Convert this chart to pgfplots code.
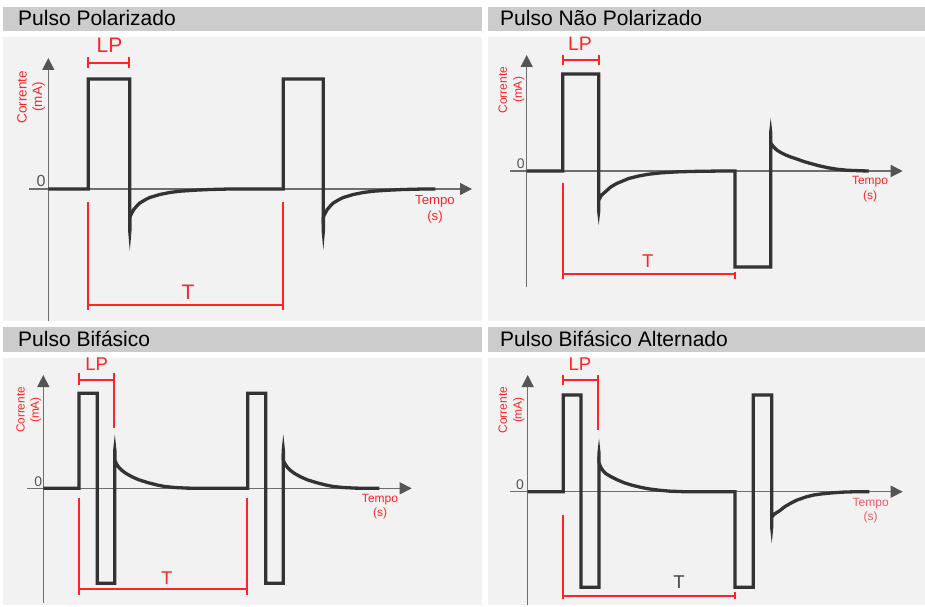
\documentclass[border=0pt]{standalone}
\usepackage{fontspec}
\setmainfont{Liberation Sans}
\usepackage{pgfplots}
\pgfplotsset{compat=1.18}
\usetikzlibrary{arrows.meta}

\definecolor{barcol}{HTML}{CCCCCC}
\definecolor{panelcol}{HTML}{F2F2F2}
\definecolor{wavecol}{HTML}{333333}
\definecolor{axcol}{HTML}{6E6E6E}
\definecolor{arrcol}{HTML}{555555}
\definecolor{redcol}{HTML}{FF2424}
\definecolor{pinkcol}{HTML}{F25A66}
\definecolor{zerocol}{HTML}{555555}
\definecolor{tcol}{HTML}{444444}

\newcommand\fs[2]{\fontsize{#1}{#2}\selectfont}

\pgfplotsset{
  panel/.style={anchor=south west, x=1pt, y=1pt, hide axis, clip=false},
}
\tikzset{
  wave/.style={draw=wavecol, line width=3.3pt, line join=miter, mark=none},
  spk/.style={fill=wavecol, draw=none, mark=none},
  ax/.style={draw=axcol, line width=1.3pt, -{Triangle[length=12pt,width=12pt,color=arrcol]}},
  br/.style={draw=redcol, line width=1.9pt},
  lbl/.style={text=redcol, align=center, inner sep=0pt},
  ttl/.style={anchor=base west, inner sep=0pt, font=\fs{21}{24}},
}

\begin{document}
\begin{tikzpicture}
% page and panels
\fill[white] (0pt,0pt) rectangle (925pt,606pt);
\fill[barcol] (3pt,575pt) rectangle (482pt,599pt);
\fill[barcol] (488pt,575pt) rectangle (925pt,599pt);
\fill[barcol] (3pt,254pt) rectangle (482pt,279pt);
\fill[barcol] (488pt,254pt) rectangle (925pt,279pt);
\fill[panelcol] (3pt,285pt) rectangle (482pt,569pt);
\fill[panelcol] (488pt,285pt) rectangle (925pt,569pt);
\fill[panelcol] (3pt,1pt) rectangle (482pt,248pt);
\fill[panelcol] (488pt,1pt) rectangle (925pt,248pt);
\node[ttl] at (18pt,580pt) {Pulso Polarizado};
\node[ttl] at (500pt,580pt) {Pulso Não Polarizado};
\node[ttl] at (18pt,259.3pt) {Pulso Bifásico};
\node[ttl] at (500pt,259.3pt) {Pulso Bifásico Alternado};

% ---------- Pulso Polarizado ----------
\begin{axis}[panel, at={(3pt,285pt)}, xmin=-45.3, xmax=433.7, ymin=-132, ymax=152]
\draw[ax] (-19.3,0) -- (423.7,0);
\draw[ax] (0,-132) -- (0,131);
\addplot[wave] coordinates {(0,0) (40,0) (40,110) (81.5,110) (81.5,-28)
  (83.5,-24) (85.5,-20.5) (88.5,-17) (91.5,-14) (96.5,-11) (101.5,-8.5)
  (111.5,-5.5) (121.5,-3.5) (131.5,-2.2) (146.5,-1.2) (161.5,-0.5) (181.5,0)
  (235,0) (235,110) (275,110) (275,-28)
  (277,-24) (279,-20.5) (282,-17) (285,-14) (290,-11) (295,-8.5)
  (305,-5.5) (315,-3.5) (325,-2.2) (340,-1.2) (355,-0.5) (375,0) (387,0)};
\addplot[spk] coordinates {(79.8,-28) (83.2,-28) (83.2,-42) (81.5,-62) (79.8,-42)};
\addplot[spk] coordinates {(273.3,-28) (276.7,-28) (276.7,-42) (275,-61) (273.3,-42)};
\draw[br] (40,125.7) -- (81,125.7);
\draw[br] (40,120.7) -- (40,132.3);
\draw[br] (81,120.7) -- (81,132.3);
\node[lbl, font=\fs{21}{24}] at (61.2,143.5) {LP};
\draw[br] (40,-13) -- (40,-121);
\draw[br] (235,-13) -- (235,-121);
\draw[br] (40,-116) -- (235,-116);
\node[lbl, font=\fs{21}{24}] at (139.7,-103.5) {T};
\node[text=zerocol, inner sep=0pt, font=\fs{16}{18}] at (-7.3,8) {0};
\node[lbl, rotate=90, font=\fs{13.5}{15.5}] at (-17.3,92) {Corrente\\(mA)};
\node[lbl, font=\fs{13.2}{16}] at (386.7,-20) {Tempo\\(s)};
\end{axis}

% ---------- Pulso Nao Polarizado ----------
\begin{axis}[panel, at={(488pt,285pt)}, xmin=-38.7, xmax=398.3, ymin=-150, ymax=134]
\draw[ax] (-16.7,0) -- (376,0);
\draw[ax] (0,-116) -- (0,116);
\addplot[wave] coordinates {(0,0) (36,0) (36,97) (72,97) (72,-29)
  (75,-24) (79,-20.5) (84,-16) (90,-12.5) (96,-10) (102,-7.5) (112,-5)
  (122,-3.2) (135,-1.8) (152,-0.8) (172,-0.3) (197,0)
  (208.3,0) (208.3,-96) (244,-96) (244,28)
  (247,24) (250,21) (254,18.5) (259,16) (264,14) (270,12) (277,9.5)
  (284,7.5) (292,5.3) (301,3.3) (310,1.8) (320,0.8) (334,0.2) (342,0)};
\addplot[spk] coordinates {(70.3,-29) (73.7,-29) (73.7,-40) (72,-54) (70.3,-40)};
\addplot[spk] coordinates {(242.3,28) (245.7,28) (245.7,38) (244,53) (242.3,38)};
\draw[br] (36,111) -- (72.3,111);
\draw[br] (36,106) -- (36,116);
\draw[br] (72.3,106) -- (72.3,116);
\node[lbl, font=\fs{19.5}{22}] at (53.3,127) {LP};
\draw[br] (36,-11.7) -- (36,-108);
\draw[br] (208.3,-101) -- (208.3,-108);
\draw[br] (36,-103.3) -- (208.3,-103.3);
\node[lbl, font=\fs{18.5}{22}] at (121,-90.5) {T};
\node[text=zerocol, inner sep=0pt, font=\fs{14}{16}] at (-6,7) {0};
\node[lbl, rotate=90, font=\fs{12}{15}] at (-15.2,81) {Corrente\\(mA)};
\node[lbl, font=\fs{12}{15}] at (343.3,-18) {Tempo\\(s)};
\end{axis}

% ---------- Pulso Bifasico ----------
\begin{axis}[panel, at={(3pt,1pt)}, xmin=-40.3, xmax=438.7, ymin=-116.7, ymax=130.3]
\draw[ax] (-16,0) -- (368.4,0);
\draw[ax] (0,-114.4) -- (0,113.3);
\addplot[wave] coordinates {(0,0) (35.7,0) (35.7,95) (54,95) (54,-95) (71.5,-95) (71.5,28)
  (73.5,24) (75.5,21) (78.5,18) (82.5,15) (88.5,11.6) (95.5,8.5) (104.5,5.7)
  (113.5,3.4) (121.5,1.8) (131.5,0.8) (143.5,0.2) (156.5,0)
  (204.4,0) (204.4,95) (222.4,95) (222.4,-95) (240,-95) (240,28)
  (242,24) (244,21) (247,18) (251,15) (257,11.6) (264,8.5) (273,5.7)
  (282,3.4) (290,1.8) (300,0.8) (312,0.2) (325,0) (336,0)};
\addplot[spk] coordinates {(69.8,28) (73.2,28) (73.2,38) (71.5,54) (69.8,38)};
\addplot[spk] coordinates {(238.3,28) (241.7,28) (241.7,38) (240,54) (238.3,38)};
\draw[br] (35.7,108.3) -- (70.7,108.3);
\draw[br] (35.7,103.3) -- (35.7,115.3);
\draw[br] (70.7,60.3) -- (70.7,115.3);
\node[lbl, font=\fs{18.5}{22}] at (53.4,124) {LP};
\draw[br] (35.7,-9.7) -- (35.7,-106.7);
\draw[br] (203.7,-9.7) -- (203.7,-106.7);
\draw[br] (35.7,-101) -- (203.7,-101);
\node[lbl, font=\fs{18.5}{22}] at (123.4,-90) {T};
\node[text=zerocol, inner sep=0pt, font=\fs{14}{16}] at (-5,6.6) {0};
\node[lbl, rotate=90, font=\fs{11.8}{14.3}] at (-14.5,78.3) {Corrente\\(mA)};
\node[lbl, font=\fs{12}{14}] at (336.7,-18) {Tempo\\(s)};
\end{axis}

% ---------- Pulso Bifasico Alternado ----------
\begin{axis}[panel, at={(488pt,1pt)}, xmin=-39.7, xmax=397.3, ymin=-113.3, ymax=133.7]
\draw[ax] (-17.7,0) -- (375,0);
\draw[ax] (0,-113.3) -- (0,116.7);
\addplot[wave] coordinates {(0,0) (35.6,0) (35.6,96.7) (53.3,96.7) (53.3,-95.6) (71.3,-95.6) (71.3,28.4)
  (73.3,24) (75.3,21) (78.3,18) (83.3,15) (89.3,12) (96.3,9) (104.3,6.5)
  (113.3,4.3) (121.3,2.8) (131.3,1.5) (141.3,0.6) (156.3,0)
  (207.3,0) (207.3,-95.6) (225.6,-95.6) (225.6,96.7) (244,96.7) (244,-25)
  (246,-23) (248,-21.5) (252,-19) (257,-15) (263,-11.5) (269,-8.5) (278,-5.3)
  (286,-3.3) (294,-2.2) (304,-1.2) (316,-0.4) (329,0) (341.6,0)};
\addplot[spk] coordinates {(69.6,28.4) (73,28.4) (73,38) (71.3,53.4) (69.6,38)};
\addplot[spk] coordinates {(242.3,-25) (245.7,-25) (245.7,-35) (244,-51.6) (242.3,-35)};
\draw[br] (35,111.7) -- (70.6,111.7);
\draw[br] (35,106.7) -- (35,116.7);
\draw[br] (70.6,61.7) -- (70.6,116.7);
\node[lbl, font=\fs{18.5}{22}] at (52.3,127.2) {LP};
\draw[br] (35,-23.3) -- (35,-107.6);
\draw[br] (207.3,-100) -- (207.3,-107.6);
\draw[br] (35,-104) -- (207.3,-104);
\node[text=tcol, inner sep=0pt, font=\fs{18.5}{22}] at (151.3,-90) {T};
\node[text=zerocol, inner sep=0pt, font=\fs{14}{16}] at (-7.7,6.7) {0};
\node[lbl, rotate=90, font=\fs{12}{15}] at (-16.2,81.7) {Corrente\\(mA)};
\node[text=pinkcol, align=center, inner sep=0pt, font=\fs{12}{14}] at (343,-18.6) {Tempo\\(s)};
\end{axis}
\end{tikzpicture}
\end{document}
